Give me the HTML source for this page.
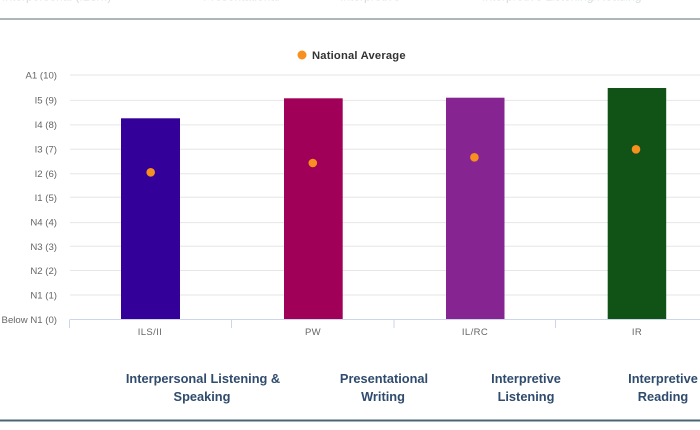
<!DOCTYPE html>
<html>
<head>
<meta charset="utf-8">
<style>
  html, body { margin: 0; padding: 0; background: #ffffff; }
  body { width: 700px; height: 430px; overflow: hidden; position: relative; }
  svg { display: block; }
  .yl { font-family: "Liberation Sans", sans-serif; font-size: 9.6px; fill: #666666; text-anchor: end; }
  .xl { font-family: "Liberation Sans", sans-serif; font-size: 9.5px; fill: #666666; text-anchor: middle; letter-spacing: 0.4px; }
  .bl { font-family: "Liberation Sans", sans-serif; font-size: 12.8px; font-weight: bold; fill: #2f4b6e; text-anchor: middle; }
  .top { font-family: "Liberation Sans", sans-serif; font-size: 12px; fill: #d3dcdc; }
</style>
</head>
<body>
<svg width="700" height="430" viewBox="0 0 700 430" xmlns="http://www.w3.org/2000/svg">
  <rect x="0" y="0" width="700" height="430" fill="#ffffff"/>

  <!-- faint cut-off header text -->
  <text class="top" x="2" y="0.5">Interpersonal (ILS/II)</text>
  <text class="top" x="203" y="0.5">Presentational</text>
  <text class="top" x="340" y="0.5">Interpretive</text>
  <text class="top" x="482" y="0.5">Interpretive Listening/Reading</text>

  <!-- top separator -->
  <rect x="0" y="18" width="700" height="2" fill="#adb7b7"/>

  <!-- legend -->
  <circle cx="302" cy="55" r="4.5" fill="#f7901e"/>
  <text x="312" y="59" font-family="Liberation Sans, sans-serif" font-size="11.2" font-weight="bold" fill="#333333" letter-spacing="0.2">National Average</text>

  <!-- gridlines -->
  <g stroke="#e6e6e6" stroke-width="1">
    <line x1="70" y1="75" x2="700" y2="75"/>
    <line x1="70" y1="100.4" x2="700" y2="100.4"/>
    <line x1="70" y1="124.9" x2="700" y2="124.9"/>
    <line x1="70" y1="149.3" x2="700" y2="149.3"/>
    <line x1="70" y1="173.7" x2="700" y2="173.7"/>
    <line x1="70" y1="197.2" x2="700" y2="197.2"/>
    <line x1="70" y1="222.6" x2="700" y2="222.6"/>
    <line x1="70" y1="246.3" x2="700" y2="246.3"/>
    <line x1="70" y1="270.5" x2="700" y2="270.5"/>
    <line x1="70" y1="295" x2="700" y2="295"/>
  </g>

  <!-- y labels -->
  <text class="yl" x="57" y="78.5">A1 (10)</text>
  <text class="yl" x="57" y="103.5">I5 (9)</text>
  <text class="yl" x="57" y="128">I4 (8)</text>
  <text class="yl" x="57" y="152.5">I3 (7)</text>
  <text class="yl" x="57" y="177">I2 (6)</text>
  <text class="yl" x="57" y="201">I1 (5)</text>
  <text class="yl" x="57" y="225.5">N4 (4)</text>
  <text class="yl" x="57" y="250">N3 (3)</text>
  <text class="yl" x="57" y="274">N2 (2)</text>
  <text class="yl" x="57" y="298.5">N1 (1)</text>
  <text class="yl" x="57" y="323">Below N1 (0)</text>

  <!-- bars -->
  <rect x="121" y="118.3" width="59" height="201" fill="#330099"/>
  <rect x="284" y="98.3" width="58.7" height="221" fill="#a10058"/>
  <rect x="446" y="97.7" width="58.5" height="221.6" fill="#862592"/>
  <rect x="607.7" y="88" width="58.5" height="231.3" fill="#115316"/>

  <!-- baseline and ticks -->
  <line x1="70" y1="319.5" x2="700" y2="319.5" stroke="#ccd6eb" stroke-width="1"/>
  <g stroke="#ccd6eb" stroke-width="1">
    <line x1="69.5" y1="319.5" x2="69.5" y2="328"/>
    <line x1="231.5" y1="319.5" x2="231.5" y2="328"/>
    <line x1="394" y1="319.5" x2="394" y2="328"/>
    <line x1="555.5" y1="319.5" x2="555.5" y2="328"/>
  </g>

  <!-- national average dots -->
  <circle cx="150.7" cy="172.3" r="4.3" fill="#f7901e"/>
  <circle cx="312.8" cy="163" r="4.3" fill="#f7901e"/>
  <circle cx="474.4" cy="157.3" r="4.3" fill="#f7901e"/>
  <circle cx="636" cy="149.3" r="4.3" fill="#f7901e"/>

  <!-- category labels -->
  <text class="xl" x="150" y="335">ILS/II</text>
  <text class="xl" x="313" y="335">PW</text>
  <text class="xl" x="475" y="335">IL/RC</text>
  <text class="xl" x="637" y="335">IR</text>

  <!-- bottom descriptive labels -->
  <text class="bl" x="203" y="383">Interpersonal Listening &amp;</text>
  <text class="bl" x="202" y="401">Speaking</text>
  <text class="bl" x="384" y="383">Presentational</text>
  <text class="bl" x="383" y="401">Writing</text>
  <text class="bl" x="526" y="383">Interpretive</text>
  <text class="bl" x="526" y="401">Listening</text>
  <text class="bl" x="663" y="383">Interpretive</text>
  <text class="bl" x="663" y="401">Reading</text>

  <!-- bottom separator -->
  <rect x="0" y="419.5" width="700" height="2" fill="#4b6673"/>
</svg>
</body>
</html>
